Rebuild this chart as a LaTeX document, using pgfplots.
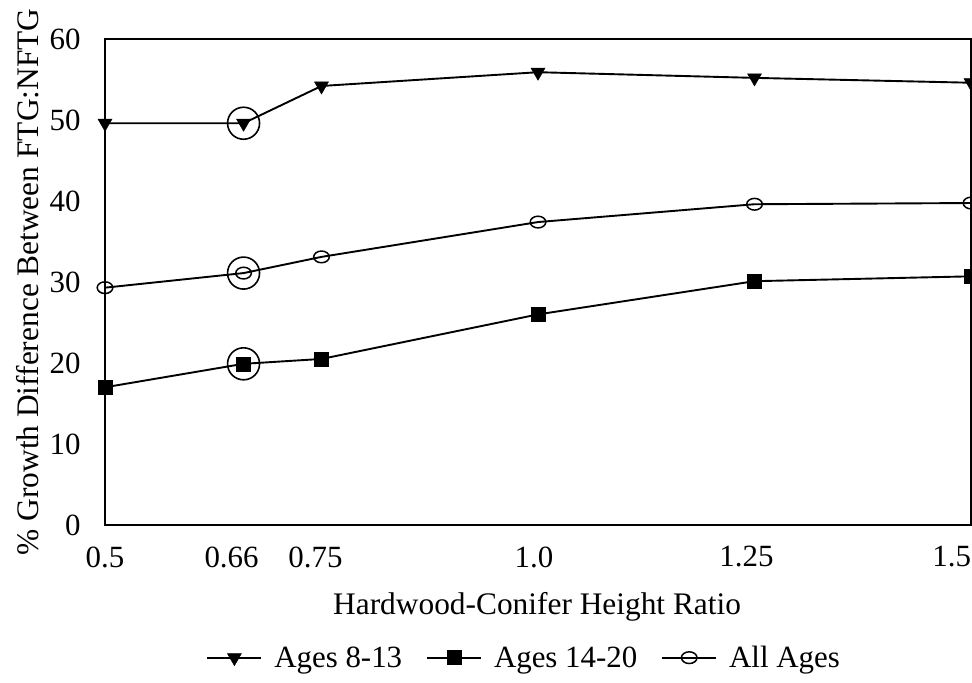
\documentclass[border=0pt]{standalone}
\usepackage{pgfplots}
\pgfplotsset{compat=1.18}
\usepackage{fontspec}
\setmainfont{Liberation Serif}

\pgfplotstableread{
x     y
0.5   49.6
0.66  49.6
0.75  54.2
1.0   55.9
1.25  55.2
1.5   54.6
}\agesA
\pgfplotstableread{
x     y
0.5   17.0
0.66  19.9
0.75  20.5
1.0   26.0
1.25  30.1
1.5   30.7
}\agesB
\pgfplotstableread{
x     y
0.5   29.3
0.66  31.1
0.75  33.1
1.0   37.4
1.25  39.6
1.5   39.75
}\agesAll
\pgfplotstableread{
x     y
0.66  49.6
0.66  31.1
0.66  19.9
}\highlight

\begin{document}
\begin{tikzpicture}
\begin{axis}[
  scale only axis, width=866bp, height=486bp,
  xmin=0.5, xmax=1.5, ymin=0, ymax=60,
  xtick={0.5,0.66,0.75,1.0,1.25,1.5},
  xticklabels={0.5,\hspace*{-24bp}0.66,\hspace*{-12bp}0.75,\hspace*{-8bp}1.0,\hspace*{-16bp}1.25,\llap{1.5}},
  ytick={0,10,20,30,40,50,60},
  major tick length=0pt,
  tick style={draw=none},
  axis line style={line width=1.6bp},
  ticklabel style={font=\fontsize{31}{37}\selectfont},
  /pgf/number format/assume math mode=true,
  xticklabel style={yshift=-18bp},
  yticklabel style={xshift=-21bp},
  xlabel={Hardwood-Conifer Height Ratio},
  ylabel={\% Growth Difference Between FTG:NFTG},
  label style={font=\fontsize{31.5}{37}\selectfont},
  xlabel style={at={(axis description cs:0.499,-0.169)}, anchor=center},
  ylabel style={at={(axis description cs:-0.089,0.5)}, anchor=center},
  legend columns=3,
  legend style={draw=none, fill=none, font=\fontsize{31}{37}\selectfont,
    at={(0.484,-0.273)}, anchor=center,
    /tikz/every odd column/.append style={column sep=10bp},
    /tikz/every even column/.append style={column sep=22bp}},
  legend image code/.code={\draw[mark repeat=2,mark phase=2,#1] plot coordinates {(0bp,0bp) (27bp,0bp) (54bp,0bp)};},
  every axis plot/.append style={black, line width=1.9bp},
]
\addplot[mark=triangle*, mark size=8bp, mark options={rotate=180, line width=0.5bp}] table[x=x,y=y] {\agesA};
\addlegendentry{Ages 8-13}
\addplot[mark=square*, mark size=7bp, mark options={line width=0.5bp}] table[x=x,y=y] {\agesB};
\addlegendentry{Ages 14-20}
\addplot[mark=o, mark size=6.5bp, mark options={xscale=1.2, yscale=0.9, line width=1.5bp}] table[x=x,y=y] {\agesAll};
\addlegendentry{All Ages}
\addplot[forget plot, only marks, mark=o, mark size=16bp, mark options={line width=1.6bp}] table[x=x,y=y] {\highlight};
\end{axis}
\path (current axis.south west) ++(-105bp,-158bp) coordinate (A);
\path (current axis.north east) ++(1bp,39bp) coordinate (B);
\pgfresetboundingbox
\useasboundingbox (A) rectangle (B);
\end{tikzpicture}
\end{document}
